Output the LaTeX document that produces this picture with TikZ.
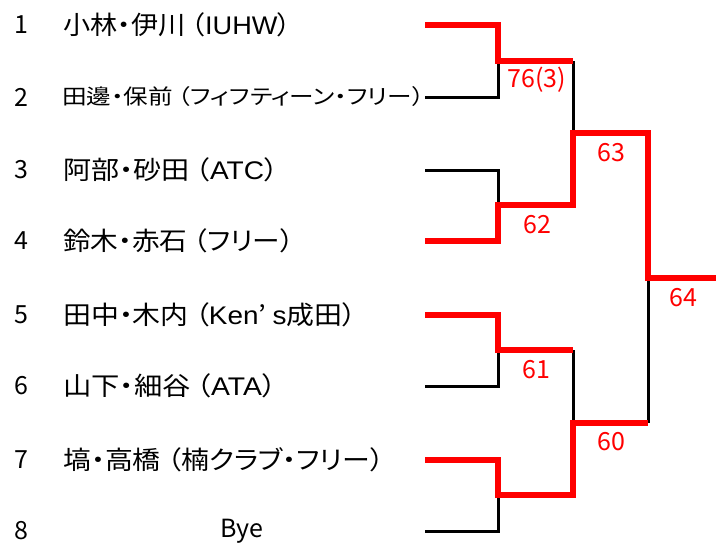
\documentclass[tikz,border=0pt]{standalone}
\usepackage{graphicx}
\usepackage{fontspec}
\setmainfont{Noto Sans CJK JP}
\newfontfamily\pfont[RawFeature=+palt]{Noto Sans CJK JP}
\newfontfamily\latf{Liberation Sans}
\newcommand\fitto[2]{\resizebox{#1pt}{\height}{#2}}
\begin{document}
\begin{tikzpicture}[x=1pt,y=-1pt,
  seednum/.style={font=\fontsize{25}{30}\selectfont, anchor=center, inner sep=0pt},
  pairname/.style={font=\pfont\fontsize{25.5}{30}\selectfont, anchor=west, inner sep=0pt},
  smallpair/.style={font=\pfont\fontsize{21}{25}\selectfont, anchor=west, inner sep=0pt},
  scorelbl/.style={font=\fontsize{25}{30}\selectfont, text=red, anchor=center, inner sep=0pt},
  loser/.style={draw=black, line width=3pt, line join=miter},
  winner/.style={draw=red, line width=6pt, line join=miter}]
\useasboundingbox (0,0) rectangle (716,546);
% seeds
\foreach \i/\y in {1/25,2/97,3/170,4/241,5/315,6/386,7/460,8/531}{
  \node[seednum] (n\i) at (21,\y) {\i};
  \coordinate (s\i) at (425,\y);
}
\node[pairname] (p1) at (63,25) {\fitto{228}{小林・伊川 （{\latf IUHW}）}};
\node[smallpair] (p2) at (62,97) {\fitto{362}{田邊・保前 （フィフティーン・フリー）}};
\node[pairname] (p3) at (63,170) {\fitto{215}{阿部・砂田 （{\latf ATC}）}};
\node[pairname] (p4) at (63,241) {\fitto{231}{鈴木・赤石 （フリー）}};
\node[pairname] (p5) at (63,315) {\fitto{293}{田中・木内 （{\latf Ken}’ {\latf s}成田）}};
\node[pairname] (p6) at (63,386) {\fitto{213}{山下・細谷 （{\latf ATA}）}};
\node[pairname] (p7) at (63,460) {\fitto{321}{塙・高橋 （楠クラブ・フリー）}};
\node[seednum] (p8) at (242,531) {Bye};
% match points
\coordinate (m1) at (498,61);
\coordinate (m2) at (498,205);
\coordinate (m3) at (498,350);
\coordinate (m4) at (498,495);
\coordinate (r1) at (573,133);
\coordinate (r2) at (573,423);
\coordinate (f) at (648,278);
\coordinate (w) at (716,278);
% losers
\draw[loser] (s2) -| (m1);
\draw[loser] (s3) -| (m2);
\draw[loser] (s6) -| (m3);
\draw[loser] (s8) -| (m4);
\draw[loser] (m1 -| r1) -- (r1);
\draw[loser] (m3 -| r2) -- (r2);
\draw[loser] (r2 -| f) -- (f);
% winners
\draw[winner] (s1) -| (m1) -- (m1 -| r1);
\draw[winner] (s4) -| (m2) -- (m2 -| r1) -- (r1) -- (r1 -| f) -- (f) -- (w);
\draw[winner] (s5) -| (m3) -- (m3 -| r2);
\draw[winner] (s7) -| (m4) -- (m4 -| r2) -- (r2) -- (r2 -| f);
% scores
\node[scorelbl] (c1) at (537,80) {76(3)};
\node[scorelbl] (c2) at (537,225) {62};
\node[scorelbl] (c3) at (536,370) {61};
\node[scorelbl] (c4) at (611,153) {63};
\node[scorelbl] (c5) at (611,442) {60};
\node[scorelbl] (c6) at (683,298) {64};
\end{tikzpicture}
\end{document}
